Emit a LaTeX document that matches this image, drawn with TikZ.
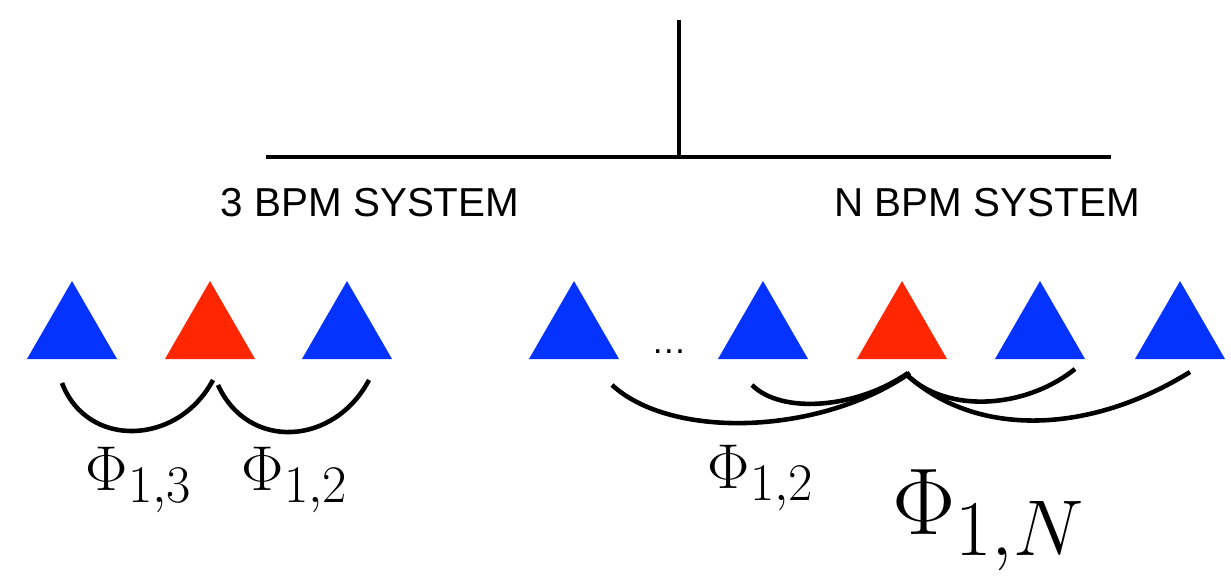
\documentclass[tikz,border=0pt]{standalone}
\usepackage{fontspec}
\setsansfont{Liberation Sans}
\usepackage{tikz}
\usetikzlibrary{shapes.geometric}
\definecolor{bpmBlue}{HTML}{0433FF}
\definecolor{bpmRed}{HTML}{FF2600}

\begin{document}
\begin{tikzpicture}[x=0.02cm, y=-0.02cm,
    bpm/.style={regular polygon, regular polygon sides=3, minimum size=2.08cm,
        inner sep=0pt, outer sep=0pt},
    phase/.style={line width=2.6pt},
    syslabel/.style={font=\sffamily\fontsize{23}{27}\selectfont},
    philabel/.style={font=\Huge}]
    \useasboundingbox (0,0) rectangle (1231,575);
    % tree
    \coordinate (top) at (679,20);
    \coordinate (hub) at (679,157);
    \coordinate (lend) at (266,157);
    \coordinate (rend) at (1111,157);
    \draw[line width=1.8pt] (top) -- (hub);
    \draw[line width=2.4pt] (lend) -- (rend);
    \node[syslabel] (sys3) at (370,203) {3 BPM SYSTEM};
    \node[syslabel] (sysN) at (987,203) {N BPM SYSTEM};
    % BPMs
    \foreach \name/\x/\col in {l1/72/bpmBlue, l2/210/bpmRed, l3/347/bpmBlue,
        r1/574/bpmBlue, r2/763/bpmBlue, r3/902/bpmRed, r4/1040/bpmBlue, r5/1180/bpmBlue}
        \node[bpm, fill=\col] (\name) at (\x,333) {};
    \node[font=\sffamily\fontsize{20}{24}\selectfont] (dots) at (669,352) {\textellipsis};
    % phase advances, 3 BPM
    \draw[phase] ([shift={(-10,24)}]l1.south) .. controls +(25,66) and +(-35,66) .. ([shift={(3,21)}]l2.south);
    \draw[phase] ([shift={(8,26)}]l2.south) .. controls +(30,66) and +(-35,66) .. ([shift={(22,21)}]l3.south);
    % phase advances, N BPM
    \draw[phase] ([shift={(38,26)}]r1.south) .. controls +(60,55) and +(-90,62) .. ([shift={(8,14)}]r3.south);
    \draw[phase] ([shift={(-11,26)}]r2.south) .. controls +(30,30) and +(-50,35) .. ([shift={(6,14)}]r3.south);
    \draw[phase] ([shift={(4,15)}]r3.south) .. controls +(40,40) and +(-50,40) .. ([shift={(35,10)}]r4.south);
    \draw[phase] ([shift={(6,17)}]r3.south) .. controls +(70,62) and +(-100,62) .. ([shift={(10,13)}]r5.south);
    % labels
    \node[philabel] (phi13) at (139,480) {\scalebox{1.45}{$\Phi_{1,3}$}};
    \node[philabel] (phi12l) at (295,480) {\scalebox{1.45}{$\Phi_{1,2}$}};
    \node[philabel] (phi12r) at (761,478) {\scalebox{1.45}{$\Phi_{1,2}$}};
    \node[philabel] (phi1N) at (989,520) {\scalebox{2.17}{$\Phi_{1,N}$}};
\end{tikzpicture}
\end{document}
